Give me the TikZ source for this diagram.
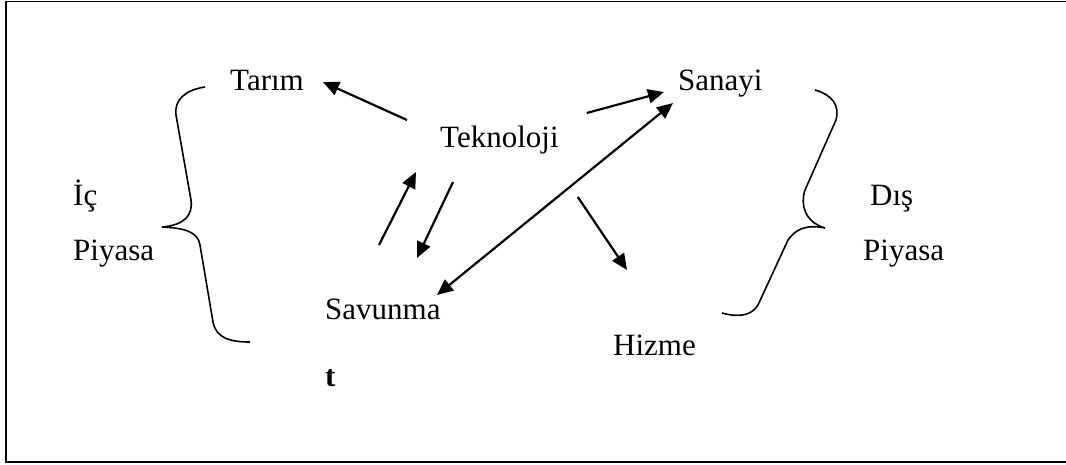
\documentclass[tikz,border=0pt]{standalone}
\usepackage{fontspec}
\setmainfont{Liberation Serif}
\usetikzlibrary{arrows.meta}

\tikzset{
    word/.style={inner sep=0pt, anchor=base west, font=\fontsize{31}{37}\selectfont},
    arr/.style={line width=2.2pt, -{Triangle[length=16pt, width=14pt]}},
    dblarr/.style={line width=2.2pt, {Triangle[length=16pt, width=14pt]}-{Triangle[length=16pt, width=14pt]}},
    brace/.style={line width=1.6pt}
}

\begin{document}
\begin{tikzpicture}[x=1pt, y=-1pt]
        \useasboundingbox (0,0) rectangle (1066,464);
        \draw[line width=1.6pt] (1080,1.5) -- (6,1.5) -- (6,462) -- (1080,462);

        % Add the words
        \node[word] (tarim)   at (230,90)  {Tarım};
        \node[word] (tek)     at (440,147) {Teknoloji};
        \node[word] (sanayi)  at (678,90)  {Sanayi};
        \node[word] (savunma) at (325,319) {Savunma};
        \node[word] (hizme)   at (613,355) {Hizme};
        \node[word] (ic)      at (73,205)  {İç};
        \node[word] (icpiy)   at (73,260)  {Piyasa};
        \node[word] (dis)     at (870,205) {Dış};
        \node[word] (dispiy)  at (863,260) {Piyasa};
        \begin{scope}
            \clip (300,369) rectangle (360,400);
            \node[word] (tson) at (325,386) {\textbf{t}};
        \end{scope}

        % Add the arrows
        \draw[arr] ([shift={(-33,-27)}]tek.base west) -- ([shift={(19,-8)}]tarim.base east);
        \draw[arr] ([shift={(28,-34)}]tek.base east) -- ([shift={(-14,2)}]sanayi.base west);
        \draw[arr] ([shift={(54,-74)}]savunma.base west) -- ([shift={(-24,25)}]tek.base west);
        \draw[arr] ([shift={(13,35)}]tek.base west) -- ([shift={(92,-61)}]savunma.base west);
        \draw[dblarr] ([shift={(112,-24)}]savunma.base west) -- ([shift={(-5,13)}]sanayi.base west);
        \draw[arr] ([shift={(19,50)}]tek.base east) -- ([shift={(14,-85)}]hizme.base west);

        % Add the braces
        \draw[brace] (205,87) .. controls (185,90) and (174,100) .. (176,115)
            -- (191,200) .. controls (193,215) and (185,225) .. (162,227)
            .. controls (185,228) and (198,232) .. (200,245)
            -- (213,322) .. controls (216,338) and (230,342) .. (250,342);
        \draw[brace] (815,90) .. controls (832,95) and (840,105) .. (836,120)
            -- (805,190) .. controls (800,205) and (805,222) .. (825,228)
            .. controls (805,224) and (795,230) .. (788,240)
            -- (758,305) .. controls (752,315) and (740,318) .. (722,313);
\end{tikzpicture}
\end{document}
